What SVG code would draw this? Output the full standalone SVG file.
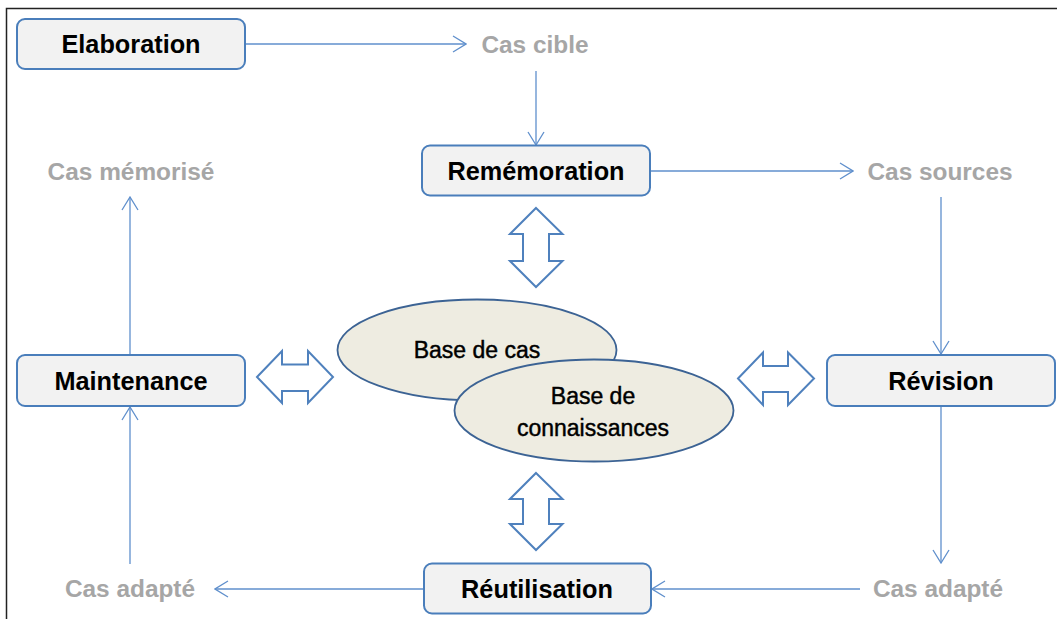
<svg xmlns="http://www.w3.org/2000/svg" width="1057" height="619" viewBox="0 0 1057 619">
<style>
.box{fill:#f2f2f2;stroke:#4a7ebb;stroke-width:2}
.lbl{font-family:"Liberation Sans",Arial,sans-serif;font-weight:bold;font-size:25.3px;fill:#000;text-anchor:middle}
.gray{font-family:"Liberation Sans",Arial,sans-serif;font-weight:bold;font-size:24.4px;fill:#a6a6a6;text-anchor:middle}
.conn{stroke:#5f8fcc;stroke-width:1.3;fill:none;marker-end:url(#chev)}
.dbl{fill:#fff;stroke:#4f81bd;stroke-width:2;stroke-linejoin:miter}
.ell{fill:#eeece1;stroke:#3c6394;stroke-width:1.8}
.etxt{font-family:"Liberation Sans",Arial,sans-serif;font-size:23px;fill:#000;stroke:#000;stroke-width:0.45;text-anchor:middle}
</style>
<defs>
<marker id="chev" markerUnits="userSpaceOnUse" viewBox="0 0 15 18" refX="14" refY="9" markerWidth="15" markerHeight="18" orient="auto">
<path d="M1,1 L14,9 L1,17" fill="none" stroke="#5f8fcc" stroke-width="1.3"/>
</marker>
</defs>
<rect width="1057" height="619" fill="#fff"/>
<path d="M6.5,619 V8.5 H1057" fill="none" stroke="#222" stroke-width="1.5"/>

<g id="connectors">
<line class="conn" x1="245" y1="44" x2="466" y2="44"/>
<line class="conn" x1="536" y1="71" x2="536" y2="145"/>
<line class="conn" x1="650" y1="171" x2="853" y2="171"/>
<line class="conn" x1="941" y1="197" x2="941" y2="354"/>
<line class="conn" x1="941" y1="407" x2="941" y2="563"/>
<line class="conn" x1="860" y1="589" x2="652" y2="589"/>
<line class="conn" x1="423" y1="589" x2="215" y2="589"/>
<line class="conn" x1="130" y1="564" x2="130" y2="407"/>
<line class="conn" x1="130" y1="354" x2="130" y2="197"/>
<polygon class="dbl" points="536,208 562.5,234 549,234 549,261 562.5,261 536,287 510,261 523,261 523,234 510,234"/>
<polygon class="dbl" points="536,473 562.5,499 549,499 549,524 562.5,524 536,550 510,524 523,524 523,499 510,499"/>
<polygon class="dbl" points="257,377 282,351 282,364.5 308,364.5 308,351 333,377 308,403 308,391 282,391 282,403"/>
<polygon class="dbl" points="738,378.5 763,352.5 763,366 788,366 788,352.5 814,378.5 788,405 788,392 763,392 763,405"/>
</g>

<g id="elaboration">
<rect class="box" x="17" y="19" width="228" height="50" rx="8"/>
<text class="lbl" x="131" y="53">Elaboration</text>
</g>
<g id="cas-cible"><text class="gray" x="535" y="53">Cas cible</text></g>
<g id="rememoration">
<rect class="box" x="422" y="145.5" width="228" height="50" rx="8"/>
<text class="lbl" x="536" y="179.5">Remémoration</text>
</g>
<g id="cas-sources"><text class="gray" x="940" y="180">Cas sources</text></g>
<g id="cas-memorise"><text class="gray" x="131" y="180">Cas mémorisé</text></g>
<g id="maintenance">
<rect class="box" x="17" y="355" width="228" height="51" rx="8"/>
<text class="lbl" x="131" y="390">Maintenance</text>
</g>
<g id="revision">
<rect class="box" x="827" y="355" width="228" height="51" rx="8"/>
<text class="lbl" x="941" y="390">Révision</text>
</g>
<g id="reutilisation">
<rect class="box" x="424" y="563.5" width="227" height="50" rx="8"/>
<text class="lbl" x="537" y="598">Réutilisation</text>
</g>
<g id="cas-adapte-left"><text class="gray" x="130" y="597">Cas adapté</text></g>
<g id="cas-adapte-right"><text class="gray" x="938" y="597">Cas adapté</text></g>

<g id="base-de-cas">
<ellipse class="ell" cx="477" cy="350" rx="139.5" ry="50.5"/>
<text class="etxt" x="477" y="358">Base de cas</text>
</g>
<g id="base-de-connaissances">
<ellipse class="ell" cx="594" cy="410.5" rx="139.5" ry="51"/>
<text class="etxt" x="593" y="403.5">Base de</text>
<text class="etxt" x="593" y="436">connaissances</text>
</g>
</svg>
